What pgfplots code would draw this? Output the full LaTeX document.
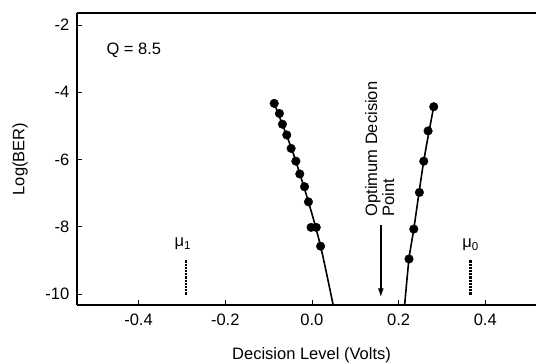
\documentclass[border=0pt]{standalone}
\usepackage{pgfplots}
\pgfplotsset{compat=1.18}
\usepackage{fontspec}
\setmainfont{Liberation Sans}
\usetikzlibrary{arrows.meta}
\newcommand\ff{\fontsize{16.5}{17}\selectfont}
\begin{document}
\ff
\begin{tikzpicture}
\begin{axis}[
  scale only axis, width=459pt, height=292pt,
  xmin=-0.542, xmax=0.517, ymin=-10.33, ymax=-1.64,
  axis x line*=box, axis y line*=left,
  y axis line style={-},
  axis line style={line width=1.4pt},
  xtick pos=left,
  tick align=inside,
  major tick length=5pt,
  every tick/.style={black, line width=0.8pt},
  xtick={-0.4,-0.2,0,0.2,0.4},
  ytick={-2,-4,-6,-8,-10},
  /pgf/number format/assume math mode=true,
  xticklabel style={/pgf/number format/fixed, /pgf/number format/fixed zerofill, /pgf/number format/precision=1, font=\ff, yshift=-3pt},
  yticklabel style={font=\ff, xshift=-2pt},
  xlabel={Decision Level (Volts)},
  ylabel={Log(BER)},
  xlabel style={font=\ff, at={(axis description cs:0.511,-0.171)}, anchor=center},
  ylabel style={font=\ff, at={(axis description cs:-0.124,0.5)}, anchor=center},
  clip=false,
]
% fitted curves
\addplot[black, line width=1.6pt, smooth, tension=0.5, mark=none] coordinates {
  (-0.087,-4.33) (-0.045,-5.75) (-0.008,-7.26) (0.020,-8.58) (0.049,-10.33)
};
\addplot[black, line width=1.6pt, smooth, tension=0.5, mark=none] coordinates {
  (0.281,-4.43) (0.258,-6.05) (0.235,-8.07) (0.224,-8.96) (0.214,-10.33)
};
% measured points
\addplot[only marks, mark=*, mark size=4.3pt, black] coordinates {
  (-0.087,-4.33) (-0.075,-4.63) (-0.068,-4.95) (-0.058,-5.27) (-0.048,-5.67)
  (-0.037,-6.05) (-0.028,-6.43) (-0.017,-6.81) (-0.008,-7.26) (-0.002,-8.02)
  (0.010,-8.02) (0.020,-8.58)
};
\addplot[only marks, mark=*, mark size=4.3pt, black] coordinates {
  (0.281,-4.43) (0.268,-5.15) (0.258,-6.05) (0.248,-6.98) (0.235,-8.07) (0.224,-8.96)
};
% mu markers
\addplot[black, line width=2.2pt, densely dotted, mark=none] coordinates {(-0.291,-9.0) (-0.291,-10.03)};
\addplot[black, line width=2.2pt, densely dotted, mark=none] coordinates {(0.366,-9.0) (0.366,-10.03)};
% optimum decision arrow
\addplot[black, line width=1.4pt, -{Latex[length=9pt,width=6pt]}, mark=none] coordinates {(0.159,-7.95) (0.159,-10.1)};
\node[font=\ff] at (axis cs:-0.298,-8.52) {μ\textsubscript{1}};
\node[font=\ff] at (axis cs:0.366,-8.55) {μ\textsubscript{0}};
\node[font=\ff, anchor=west] at (axis cs:-0.487,-2.74) {Q = 8.5};
\node[font=\ff, rotate=90, align=left, anchor=north west, inner sep=1pt] at (axis cs:0.120,-7.73) {Optimum Decision\\Point};
\end{axis}
\pgfresetboundingbox
\path[use as bounding box] ([xshift=-77pt,yshift=-58pt]current axis.south west) rectangle ([yshift=13pt]current axis.north east);
\end{tikzpicture}
\end{document}
